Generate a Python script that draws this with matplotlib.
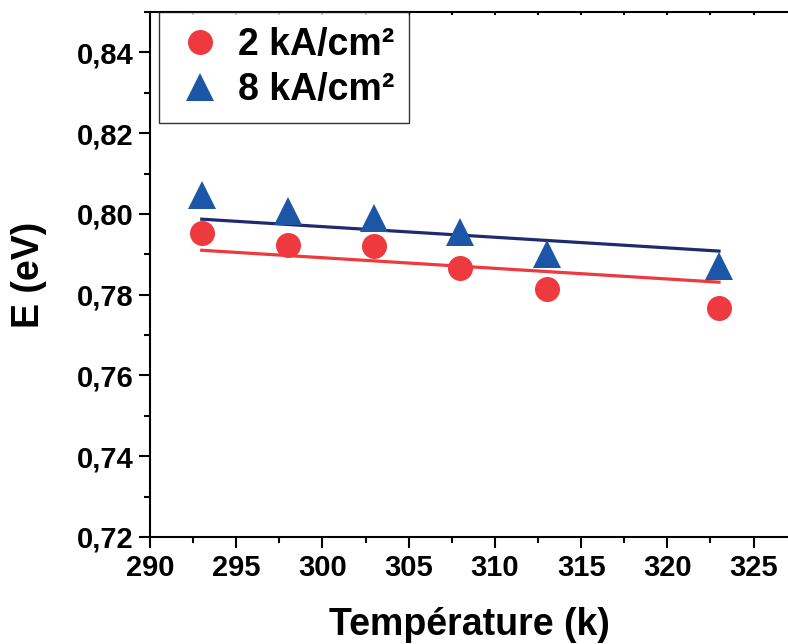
import numpy as np
import matplotlib.pyplot as plt
from matplotlib.ticker import MultipleLocator, FuncFormatter

plt.rcParams['font.family'] = ['Liberation Sans', 'DejaVu Sans']
plt.rcParams['font.weight'] = 'bold'

# data
temp = [293, 298, 303, 308, 313, 323]
e_2ka = [0.7952, 0.7923, 0.7920, 0.7866, 0.7814, 0.7767]
e_8ka = [0.8047, 0.8008, 0.7991, 0.7954, 0.7900, 0.7870]
fit_x = [293, 323]
fit_2ka = [0.7910, 0.7831]
fit_8ka = [0.7987, 0.7908]

red = '#ee393e'
blue = '#1c57a7'
navy = '#1f2b6e'

fig = plt.figure(figsize=(7.88, 6.44), dpi=100)
W, H = 788, 644
ax = fig.add_axes([150 / W, (H - 537) / H, (W - 150) / W, (537 - 12) / H])

ax.plot(fit_x, fit_8ka, color=navy, lw=2.3, zorder=2)
ax.plot(fit_x, fit_2ka, color=red, lw=2.3, zorder=2)
ax.plot(temp, e_2ka, 'o', color=red, ms=18, mew=0, label='2 kA/cm²', zorder=3)
ax.plot(temp, e_8ka, '^', color=blue, ms=20, mew=0, label='8 kA/cm²', zorder=3)

ax.set_xlim(290, 327)
ax.set_ylim(0.72, 0.85)
ax.xaxis.set_major_locator(MultipleLocator(5))
ax.xaxis.set_minor_locator(MultipleLocator(2.5))
ax.yaxis.set_major_locator(MultipleLocator(0.02))
ax.yaxis.set_minor_locator(MultipleLocator(0.01))
ax.yaxis.set_major_formatter(FuncFormatter(lambda v, p: f'{v:.2f}'.replace('.', ',')))

ax.spines['right'].set_visible(False)
for s in ['left', 'bottom', 'top']:
    ax.spines[s].set_linewidth(1.5)

ax.tick_params(axis='both', which='major', labelsize=21, width=1.5, length=8, direction='out', pad=4)
ax.tick_params(axis='both', which='minor', width=1.5, length=4, direction='out')
ax.tick_params(axis='x', which='both', top=False, labeltop=False)

# small marks on the top spine
sec = ax.secondary_xaxis('top')
sec.xaxis.set_major_locator(MultipleLocator(2.5))
sec.tick_params(direction='in', length=2, width=1.5, labeltop=False)
sec.set_xticklabels([])
sec.spines['top'].set_visible(False)

ax.set_xlabel('Température (k)', fontsize=27, fontweight='bold', labelpad=18)
ax.set_ylabel('E (eV)', fontsize=27, fontweight='bold', labelpad=21)

leg = ax.legend(loc='upper left', bbox_to_anchor=(9 / 638, 1.0), borderaxespad=0,
                fontsize=27, frameon=True, fancybox=False, handlelength=1.4,
                handletextpad=0.3, borderpad=0.4, labelspacing=0.25, markerscale=1.0)
leg.get_frame().set_edgecolor('black')
leg.get_frame().set_linewidth(1.0)

fig.savefig('out.png', dpi=100)
